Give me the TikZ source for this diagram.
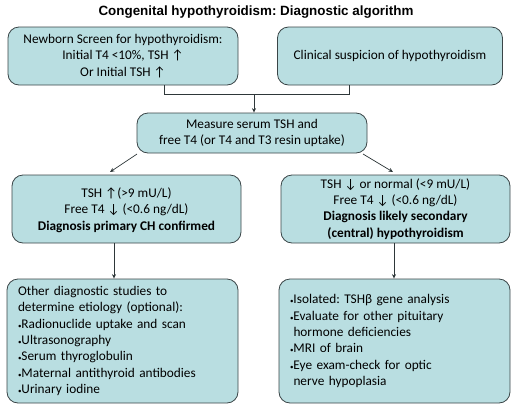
\documentclass[tikz,border=0pt]{standalone}
\usepackage{fontspec}
\setmainfont{Carlito}
\newfontfamily\titlefont{Liberation Sans}
\newfontfamily\arrfont{Carlito}
\usetikzlibrary{arrows.meta}
\definecolor{boxfill}{HTML}{B9DEE1}
\definecolor{boxline}{HTML}{3A4547}
\newcommand{\up}{{\arrfont ↑}}
\newcommand{\dn}{{\arrfont ↓}}
\newcommand{\bl}{{\scriptsize•}}
\frenchspacing
\tikzset{
  box/.style={draw=boxline, line width=0.8pt, fill=boxfill, rounded corners=11pt, inner sep=0pt, font=\fontsize{13.3}{16.3}\selectfont},
  conn/.style={draw=boxline!80!black, line width=0.7pt},
  arr/.style={conn, -{Stealth[length=4.5pt,width=4pt]}}
}
\begin{document}
\begin{tikzpicture}[x=1pt,y=-1pt]
\useasboundingbox (0,0) rectangle (512,405);
\node[font=\titlefont\bfseries\fontsize{13.4}{15}\selectfont] (title) at (256,12) {Congenital hypothyroidism: Diagnostic algorithm};
\node[box, minimum width=230pt, minimum height=58pt, align=center] (A) at (123,56)
  {Newborn Screen for hypothyroidism:\\Initial T4 <10\%, TSH \up\\Or Initial TSH \up};
\node[box, minimum width=225pt, minimum height=58pt, align=center] (B) at (390,56)
  {Clinical suspicion of hypothyroidism};
\node[box, minimum width=230pt, minimum height=40pt, align=center] (C) at (252,133)
  {Measure serum TSH and\\free T4 (or T4 and T3 resin uptake)};
\node[box, minimum width=229pt, minimum height=68pt, align=center, text depth=-2pt] (D) at (126.5,209)
  {TSH \up(>9 mU/L)\\Free T4 \dn\ (<0.6 ng/dL)\\\textbf{Diagnosis primary CH confirmed}};
\node[box, minimum width=229pt, minimum height=68pt, align=center] (E) at (395.5,209)
  {TSH \dn\ or normal (<9 mU/L)\\Free T4 \dn\ (<0.6 ng/dL)\\\textbf{Diagnosis likely secondary}\\\textbf{(central) hypothyroidism}};
\node[box, minimum width=231pt, minimum height=124pt, align=left, text width=209pt] (F) at (122.5,341)
  {Other diagnostic studies to\\determine etiology (optional):\\\bl Radionuclide uptake and scan\\\bl Ultrasonography\\\bl Serum thyroglobulin\\\bl Maternal antithyroid antibodies\\\bl Urinary iodine};
\node[box, minimum width=231pt, minimum height=124pt, align=left, text width=209pt] (G) at (394.5,341)
  {\bl Isolated: TSHβ gene analysis\\\bl Evaluate for other pituitary\\\hspace*{3.5pt}hormone deficiencies\\\bl MRI of brain\\\bl Eye exam-check for optic\\\hspace*{3.5pt}nerve hypoplasia};
% connectors
\coordinate (jA) at (164,94);
\coordinate (jB) at (349,94);
\coordinate (jM) at (254,94);
\draw[conn] (A.south -| jA) -- (jA) -- (jB) -- (B.south -| jB);
\draw[arr] (jM) -- (C.north -| jM);
\coordinate (c1) at (137,154);
\coordinate (c2) at (363,154);
\coordinate (d1) at (110,172);
\coordinate (e1) at (393,172);
\draw[arr] (c1) -- (d1);
\draw[arr] (c2) -- (e1);
\coordinate (x1) at (114,0);
\coordinate (x2) at (394,0);
\draw[arr] (D.south -| x1) -- (F.north -| x1);
\draw[arr] (E.south -| x2) -- (G.north -| x2);
\end{tikzpicture}
\end{document}
